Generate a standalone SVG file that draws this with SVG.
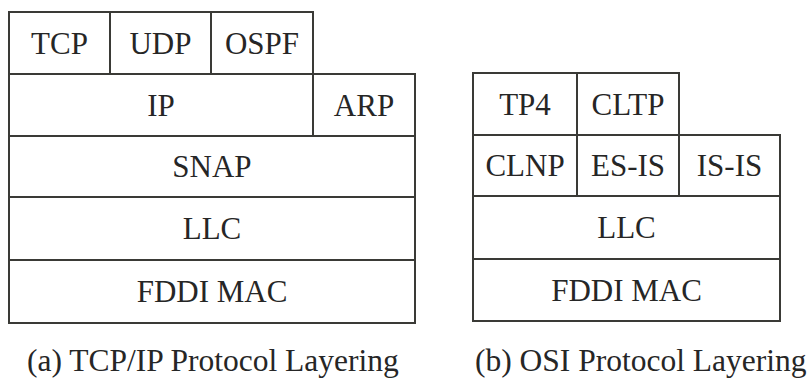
<svg xmlns="http://www.w3.org/2000/svg" width="812" height="379" viewBox="0 0 812 379">
<style>
rect{fill:#fff;stroke:#3a3a36;stroke-width:2}
text{font-family:"Liberation Serif","Times New Roman",serif;font-size:31px;fill:#262626;text-anchor:middle}
.cap{font-size:31.5px;text-anchor:start}
</style>
<rect x="0" y="0" width="812" height="379" style="stroke:none"/>
<g id="tcpip">
<g id="tcp"><rect x="9" y="12" width="101" height="62"/><text x="59.5" y="53.5">TCP</text></g>
<g id="udp"><rect x="110" y="12" width="101" height="62"/><text x="160.5" y="53.5">UDP</text></g>
<g id="ospf"><rect x="211" y="12" width="102" height="62"/><text x="262" y="53.5">OSPF</text></g>
<g id="ip"><rect x="9" y="74" width="304" height="62"/><text x="161" y="115.5">IP</text></g>
<g id="arp"><rect x="313" y="74" width="102" height="62"/><text x="364" y="115.5">ARP</text></g>
<g id="snap"><rect x="9" y="136" width="406" height="61"/><text x="212" y="177">SNAP</text></g>
<g id="llc-a"><rect x="9" y="197" width="406" height="63"/><text x="212" y="239">LLC</text></g>
<g id="mac-a"><rect x="9" y="260" width="406" height="63"/><text x="212" y="302">FDDI MAC</text></g>
<text class="cap" x="27" y="371">(a) TCP/IP Protocol Layering</text>
</g>
<g id="osi">
<g id="tp4"><rect x="473" y="73" width="104" height="62"/><text x="525" y="114.5">TP4</text></g>
<g id="cltp"><rect x="577" y="73" width="102" height="62"/><text x="628" y="114.5">CLTP</text></g>
<g id="clnp"><rect x="473" y="135" width="104" height="61"/><text x="525" y="176">CLNP</text></g>
<g id="esis"><rect x="577" y="135" width="102" height="61"/><text x="628" y="176">ES-IS</text></g>
<g id="isis"><rect x="679" y="135" width="101" height="61"/><text x="729.5" y="176">IS-IS</text></g>
<g id="llc-b"><rect x="473" y="196" width="307" height="63"/><text x="626.5" y="238">LLC</text></g>
<g id="mac-b"><rect x="473" y="259" width="307" height="62"/><text x="626.5" y="301">FDDI MAC</text></g>
<text class="cap" x="475" y="371">(b) OSI Protocol Layering</text>
</g>
<g id="connectors"/>
</svg>
